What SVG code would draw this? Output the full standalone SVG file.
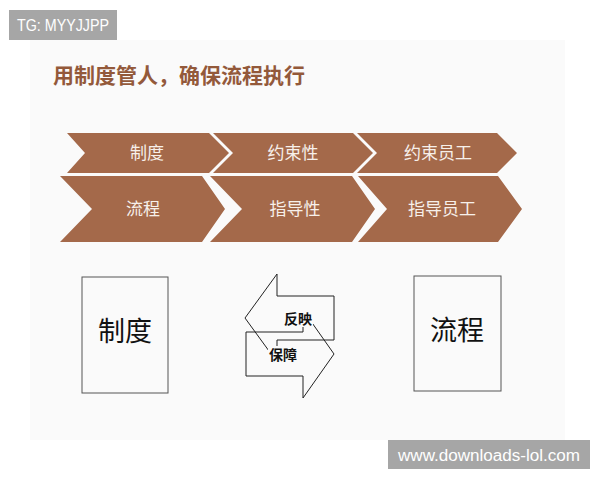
<svg xmlns="http://www.w3.org/2000/svg" width="600" height="480" viewBox="0 0 600 480">
<style>
.chev{fill:#a4694a}
.ct{font-family:"Noto Sans CJK SC","Noto Sans",sans-serif;font-size:17px;fill:#f7f0ea;text-anchor:middle}
.box{fill:none;stroke:#555;stroke-width:1}
.bt{font-family:"Noto Sans CJK SC","Noto Sans",sans-serif;font-size:27px;fill:#111;text-anchor:middle}
.arr{fill:none;stroke:#222;stroke-width:1}
.at{font-family:"Noto Sans CJK SC","Noto Sans",sans-serif;font-size:14px;font-weight:bold;fill:#111;text-anchor:middle}
.wm{fill:#a6a6a6}
.wt{font-family:"Liberation Sans",Arial,sans-serif;font-size:16px;fill:#fff}
</style>
<rect width="600" height="480" fill="#fff"/>
<rect x="30" y="40" width="535" height="400" fill="#fafafa"/>
<text x="53" y="83" font-family="'Noto Sans CJK SC','Noto Sans',sans-serif" font-size="21" font-weight="bold" fill="#93593a">用制度管人，确保流程执行</text>

<g id="c1"><polygon class="chev" points="67,133 209,133 229,153 209,173 67,173 85,153"/><text class="ct" x="147" y="159">制度</text></g>
<g id="c2"><polygon class="chev" points="213,133 353,133 373,153 353,173 213,173 233,153"/><text class="ct" x="293" y="159">约束性</text></g>
<g id="c3"><polygon class="chev" points="357,133 497,133 517,153 497,173 357,173 377,153"/><text class="ct" x="438" y="159">约束员工</text></g>
<g id="c4"><polygon class="chev" points="60,176 202,176 225,209 202,242 60,242 92,209"/><text class="ct" x="143" y="215">流程</text></g>
<g id="c5"><polygon class="chev" points="210,176 352,176 375,209 352,242 210,242 242,209"/><text class="ct" x="295" y="215">指导性</text></g>
<g id="c6"><polygon class="chev" points="358,176 498,176 522,209 498,242 358,242 387,209"/><text class="ct" x="442" y="215">指导员工</text></g>

<g id="b1"><rect class="box" x="82" y="277" width="86" height="116"/><text class="bt" x="125" y="341">制度</text></g>
<g id="b2"><rect class="box" x="414" y="276" width="87" height="115"/><text class="bt" x="457" y="340">流程</text></g>

<g id="connectors">
<polygon class="arr" points="245,318 277,274 277,296 334,296 334,340 277,340 277,362"/>
<polygon class="arr" points="334,354 303,310 303,332 246,332 246,376 303,376 303,398"/>
</g>
<g id="l1"><rect x="283" y="310" width="30" height="17" fill="#fafafa"/><text class="at" x="298" y="324">反映</text></g>
<g id="l2"><rect x="268" y="346" width="30" height="17" fill="#fafafa"/><text class="at" x="283" y="360">保障</text></g>

<g id="wm1"><rect class="wm" x="9" y="10" width="108" height="30"/><text class="wt" x="17" y="31" textLength="92" lengthAdjust="spacingAndGlyphs">TG: MYYJJPP</text></g>
<g id="wm2"><rect class="wm" x="388" y="440" width="202" height="29"/><text class="wt" x="398" y="461" textLength="182" lengthAdjust="spacingAndGlyphs">www.downloads-lol.com</text></g>
</svg>
